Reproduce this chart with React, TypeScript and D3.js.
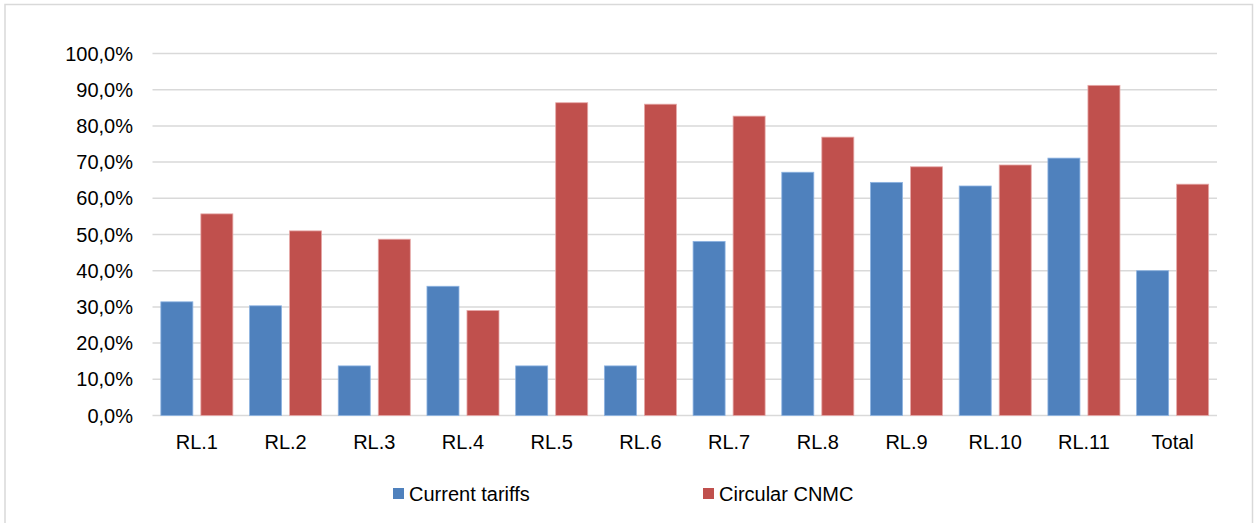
import React from "react";
import * as d3 from "d3";

const categories = ["RL.1", "RL.2", "RL.3", "RL.4", "RL.5", "RL.6", "RL.7", "RL.8", "RL.9", "RL.10", "RL.11", "Total"];
const currentTariffs = [31.4, 30.3, 13.7, 35.7, 13.7, 13.7, 48.1, 67.2, 64.4, 63.4, 71.1, 40.0];
const circularCNMC = [55.7, 51.0, 48.7, 29.0, 86.4, 86.0, 82.7, 76.9, 68.7, 69.2, 91.2, 63.9];
const seriesNames = ["Current tariffs", "Circular CNMC"];
const seriesColors = ["#4f81bd", "#c0504d"];
const seriesStrokes = ["#8db3e2", "#e6a9a8"];
const yTicks = [0, 10, 20, 30, 40, 50, 60, 70, 80, 90, 100];

const W = 1259;
const H = 523;
const FONT = "'Liberation Sans', Arial, sans-serif";

export default function App() {
  const x0 = d3.scaleBand<string>().domain(categories).range([152.5, 1217]).paddingInner(0.188).paddingOuter(0.094);
  const x1 = d3.scaleBand<string>().domain(seriesNames).range([0, x0.bandwidth()]).paddingInner(0.2).paddingOuter(0);
  const y = d3.scaleLinear().domain([0, 100]).range([415.5, 53.5]);
  const fmt = (v: number) => v.toFixed(1).replace(".", ",") + "%";
  const data = [currentTariffs, circularCNMC];

  return (
    <svg width={W} height={H} style={{ position: "absolute", left: 0, top: 0, background: "#fff" }} fontFamily={FONT}>
      <rect x={0} y={0} width={W} height={H} fill="#fff" />
      <rect x={5} y={4.5} width={1247.5} height={H + 20} fill="none" stroke="#d9d9d9" strokeWidth={1.5} />
      {yTicks.map((t) => (
        <g key={t}>
          <line x1={152.5} x2={1217} y1={y(t)} y2={y(t)} stroke="#d9d9d9" strokeWidth={1.5} />
          <text x={133} y={y(t)} dy="0.35em" textAnchor="end" fontSize={20} fill="#000">{fmt(t)}</text>
        </g>
      ))}
      {data.map((vals, si) =>
        vals.map((v, i) => (
          <rect
            key={si + "-" + i}
            x={(x0(categories[i]) as number) + (x1(seriesNames[si]) as number)}
            y={y(v)}
            width={x1.bandwidth()}
            height={y(0) - y(v)}
            fill={seriesColors[si]}
            stroke={seriesStrokes[si]}
            strokeWidth={0.8}
          />
        ))
      )}
      {categories.map((c) => (
        <text key={c} x={(x0(c) as number) + x0.bandwidth() / 2} y={449} textAnchor="middle" fontSize={20} fill="#000">{c}</text>
      ))}
      {seriesNames.map((s, i) => {
        const lx = i === 0 ? 393 : 703;
        return (
          <g key={s}>
            <rect x={lx} y={488} width={11} height={11} fill={seriesColors[i]} />
            <text x={lx + 16} y={501} fontSize={20} fill="#000">{s}</text>
          </g>
        );
      })}
    </svg>
  );
}
